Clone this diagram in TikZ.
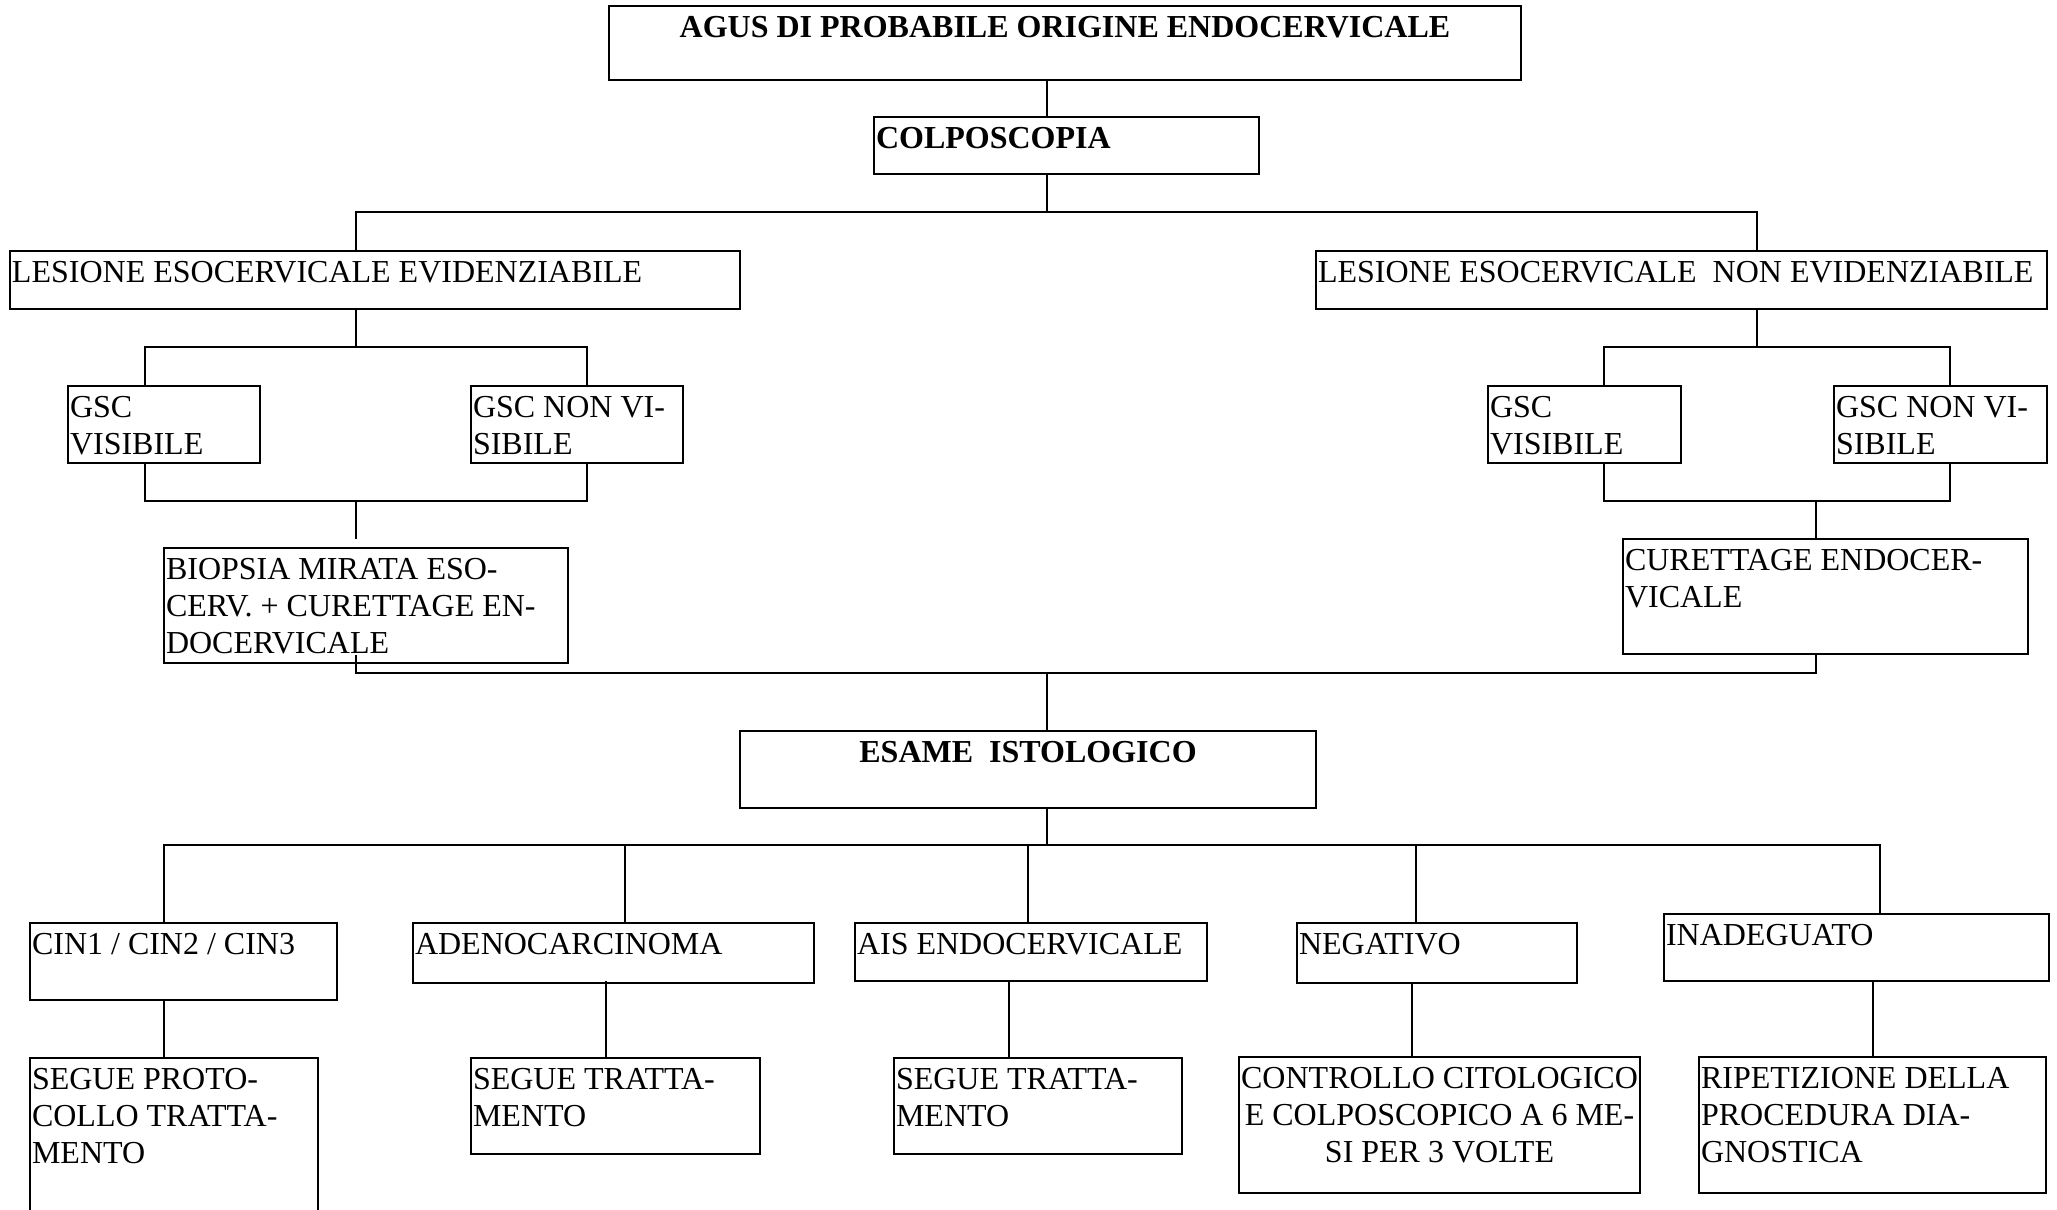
\documentclass[tikz,border=0pt]{standalone}
\usepackage{fontspec}
\setmainfont{Liberation Serif}
\usetikzlibrary{fit}

\tikzset{
  boxnode/.style={draw, line width=2.2pt, inner sep=0pt, outer sep=0pt},
  boxtext/.style={inner sep=0pt, outer sep=0pt, font=\fontsize{32}{36.8}\selectfont},
  link/.style={line width=1.6pt},
}

% box from (x1,y1) to (x2,y2), text set flush left at the top
\newcommand{\flowbox}[6]{%
  \node[boxnode, fit={(#2,#3) (#4,#5)}] (#1) {};
  \node[boxtext, align=left, anchor=north west] (#1-t) at ({#2+2},{#3+6.5}) {\rule{0pt}{25pt}#6};
}
% same box, text centred
\newcommand{\flowboxc}[6]{%
  \node[boxnode, fit={(#2,#3) (#4,#5)}] (#1) {};
  \node[boxtext, align=center, anchor=north] (#1-t) at ({(#2+#4)/2},{#3+6.5}) {\rule{0pt}{25pt}#6};
}

\begin{document}
\begin{tikzpicture}[x=1pt, y=-1pt]
\useasboundingbox (0,0) rectangle (2057,1210);
\clip (0,0) rectangle (2057,1210);

% boxes
\flowboxc{title}{609}{6}{1521}{80}{\bfseries AGUS DI PROBABILE ORIGINE ENDOCERVICALE}
\flowbox{colpo}{874}{117}{1259}{174}{\bfseries COLPOSCOPIA}
\flowbox{lesL}{10}{251}{740}{309}{LESIONE ESOCERVICALE EVIDENZIABILE}
\flowbox{lesR}{1316}{251}{2047}{309}{LESIONE ESOCERVICALE\ \ NON EVIDENZIABILE}
\flowbox{gscLa}{68}{386}{260}{463}{GSC\\VISIBILE}
\flowbox{gscLb}{471}{386}{683}{463}{GSC NON VI-\\SIBILE}
\flowbox{gscRa}{1488}{386}{1681}{463}{GSC\\VISIBILE}
\flowbox{gscRb}{1834}{386}{2047}{463}{GSC NON VI-\\SIBILE}
\flowbox{biop}{164}{548}{568}{663}{BIOPSIA MIRATA ESO-\\CERV. + CURETTAGE EN-\\DOCERVICALE}
\flowbox{curet}{1623}{539}{2028}{654}{CURETTAGE ENDOCER-\\VICALE}
\flowboxc{esame}{740}{731}{1316}{808}{\bfseries ESAME\ \ ISTOLOGICO}
\flowbox{cin}{30}{923}{337}{1000}{CIN1 / CIN2 / CIN3}
\flowbox{adeno}{413}{923}{814}{983}{ADENOCARCINOMA}
\flowbox{ais}{855}{923}{1207}{981}{AIS ENDOCERVICALE}
\flowbox{neg}{1297}{923}{1577}{983}{NEGATIVO}
\flowbox{inad}{1664}{914}{2049}{981}{INADEGUATO}
\flowbox{segA}{30}{1058}{318}{1240}{SEGUE PROTO-\\COLLO TRATTA-\\MENTO}
\flowbox{segB}{471}{1058}{760}{1154}{SEGUE TRATTA-\\MENTO}
\flowbox{segC}{894}{1058}{1182}{1154}{SEGUE TRATTA-\\MENTO}
\flowboxc{ctrl}{1239}{1057}{1640}{1193}{CONTROLLO CITOLOGICO\\E COLPOSCOPICO A 6 ME-\\SI PER 3 VOLTE}
\flowbox{rip}{1699}{1057}{2046}{1193}{RIPETIZIONE DELLA\\PROCEDURA DIA-\\GNOSTICA}

% stem positions
\coordinate (xT) at (1047,0);
\coordinate (xC) at (145,0);
\coordinate (xD) at (587,0);
\coordinate (xE) at (1604,0);
\coordinate (xF) at (1950,0);
\coordinate (xI) at (164,0);
\coordinate (xJ) at (625,0);
\coordinate (xK) at (1028,0);
\coordinate (xL) at (1416,0);
\coordinate (xM) at (1880,0);
\coordinate (xP) at (1009,0);
\coordinate (xQ) at (1412,0);
\coordinate (xR) at (1873,0);

% junctions
\coordinate (j1) at (1047,212);
\coordinate (jA) at (356,347);
\coordinate (jB) at (356,501);
\coordinate (jC) at (1757,347);
\coordinate (jD) at (1816,501);
\coordinate (jE) at (1047,673);
\coordinate (jF) at (1047,845);
\coordinate (biopStub) at (356,539);
\coordinate (biopTail) at (356,655);
\coordinate (adenoTail) at (606,981);

% top of the tree
\draw[link] (title.south -| xT) -- (colpo.north -| xT);
\draw[link] (colpo.south -| xT) -- (j1);
\draw[link] (lesL.north -| jA) |- (j1) -| (lesR.north -| jC);

% left branch
\draw[link] (lesL.south -| jA) -- (jA);
\draw[link] (gscLa.north -| xC) |- (jA) -| (gscLb.north -| xD);
\draw[link] (gscLa.south -| xC) |- (jB) -| (gscLb.south -| xD);
\draw[link] (jB) -- (biopStub);

% right branch
\draw[link] (lesR.south -| jC) -- (jC);
\draw[link] (gscRa.north -| xE) |- (jC) -| (gscRb.north -| xF);
\draw[link] (gscRa.south -| xE) |- (jD) -| (gscRb.south -| xF);
\draw[link] (jD) -- (curet.north -| jD);

% both branches join at the histology
\draw[link] (biopTail) |- (jE) -| (curet.south -| jD);
\draw[link] (jE) -- (esame.north -| jE);

% outcomes
\draw[link] (esame.south -| jF) -- (jF);
\draw[link] (cin.north -| xI) |- (jF) -| (inad.north -| xM);
\draw[link] (adeno.north -| xJ) -- (xJ |- jF);
\draw[link] (ais.north -| xK) -- (xK |- jF);
\draw[link] (neg.north -| xL) -- (xL |- jF);

% follow-up
\draw[link] (cin.south -| xI) -- (segA.north -| xI);
\draw[link] (adenoTail) -- (segB.north -| adenoTail);
\draw[link] (ais.south -| xP) -- (segC.north -| xP);
\draw[link] (neg.south -| xQ) -- (ctrl.north -| xQ);
\draw[link] (inad.south -| xR) -- (rip.north -| xR);
\end{tikzpicture}
\end{document}
